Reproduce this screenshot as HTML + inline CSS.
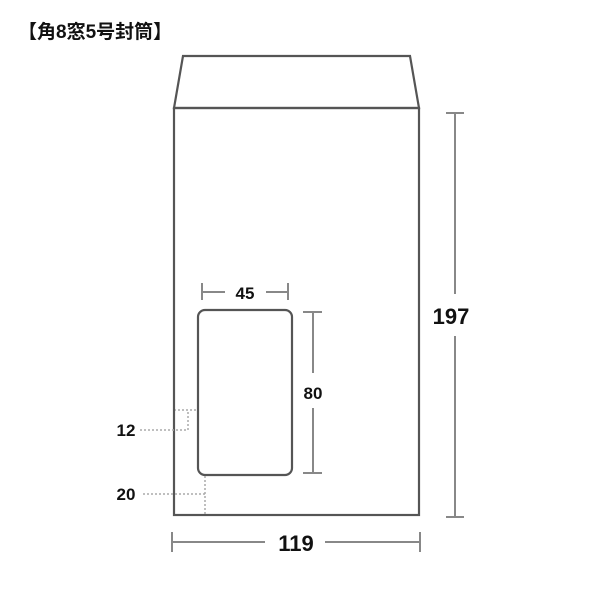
<!DOCTYPE html>
<html><head><meta charset="utf-8"><style>
html,body{margin:0;padding:0;background:#fff;}
svg{display:block;}
text{font-family:"Liberation Sans","Noto Sans CJK JP",sans-serif;font-weight:bold;fill:#111;}
</style></head><body>
<svg width="600" height="600" viewBox="0 0 600 600">
<text x="18" y="38" font-size="19">【角8窓5号封筒】</text>
<g fill="none" stroke="#555" stroke-width="2.2">
<polygon points="183,56 410,56 419,108 174,108"/>
<rect x="174" y="108" width="245" height="407"/>
<rect x="198" y="310" width="94" height="165" rx="7"/>
</g>
<g stroke="#888" stroke-width="2" fill="none">
<line x1="455" y1="113" x2="455" y2="294"/><line x1="455" y1="336" x2="455" y2="517"/>
<line x1="446" y1="113" x2="464" y2="113"/><line x1="446" y1="517" x2="464" y2="517"/>
<line x1="172" y1="542" x2="265" y2="542"/><line x1="325" y1="542" x2="420" y2="542"/>
<line x1="172" y1="532" x2="172" y2="552"/><line x1="420" y1="532" x2="420" y2="552"/>
<line x1="202" y1="292" x2="225" y2="292"/><line x1="266" y1="292" x2="288" y2="292"/>
<line x1="202" y1="283" x2="202" y2="300"/><line x1="288" y1="283" x2="288" y2="300"/>
<line x1="313" y1="312" x2="313" y2="373"/><line x1="313" y1="408" x2="313" y2="473"/>
<line x1="303" y1="312" x2="322" y2="312"/><line x1="303" y1="473" x2="322" y2="473"/>
</g>
<g stroke="#aaa" stroke-width="1.5" fill="none" stroke-dasharray="2,2">
<polyline points="140,430 188,430 188,410 175,410 198,410"/>
<polyline points="143,494 205,494"/>
<line x1="205" y1="476" x2="205" y2="514"/>
</g>
<text x="451" y="324" font-size="22" text-anchor="middle">197</text>
<text x="296" y="551" font-size="22" text-anchor="middle">119</text>
<text x="245" y="299" font-size="17" text-anchor="middle">45</text>
<text x="313" y="399" font-size="17" text-anchor="middle">80</text>
<text x="126" y="436" font-size="17" text-anchor="middle">12</text>
<text x="126" y="500" font-size="17" text-anchor="middle">20</text>
</svg>
</body></html>
